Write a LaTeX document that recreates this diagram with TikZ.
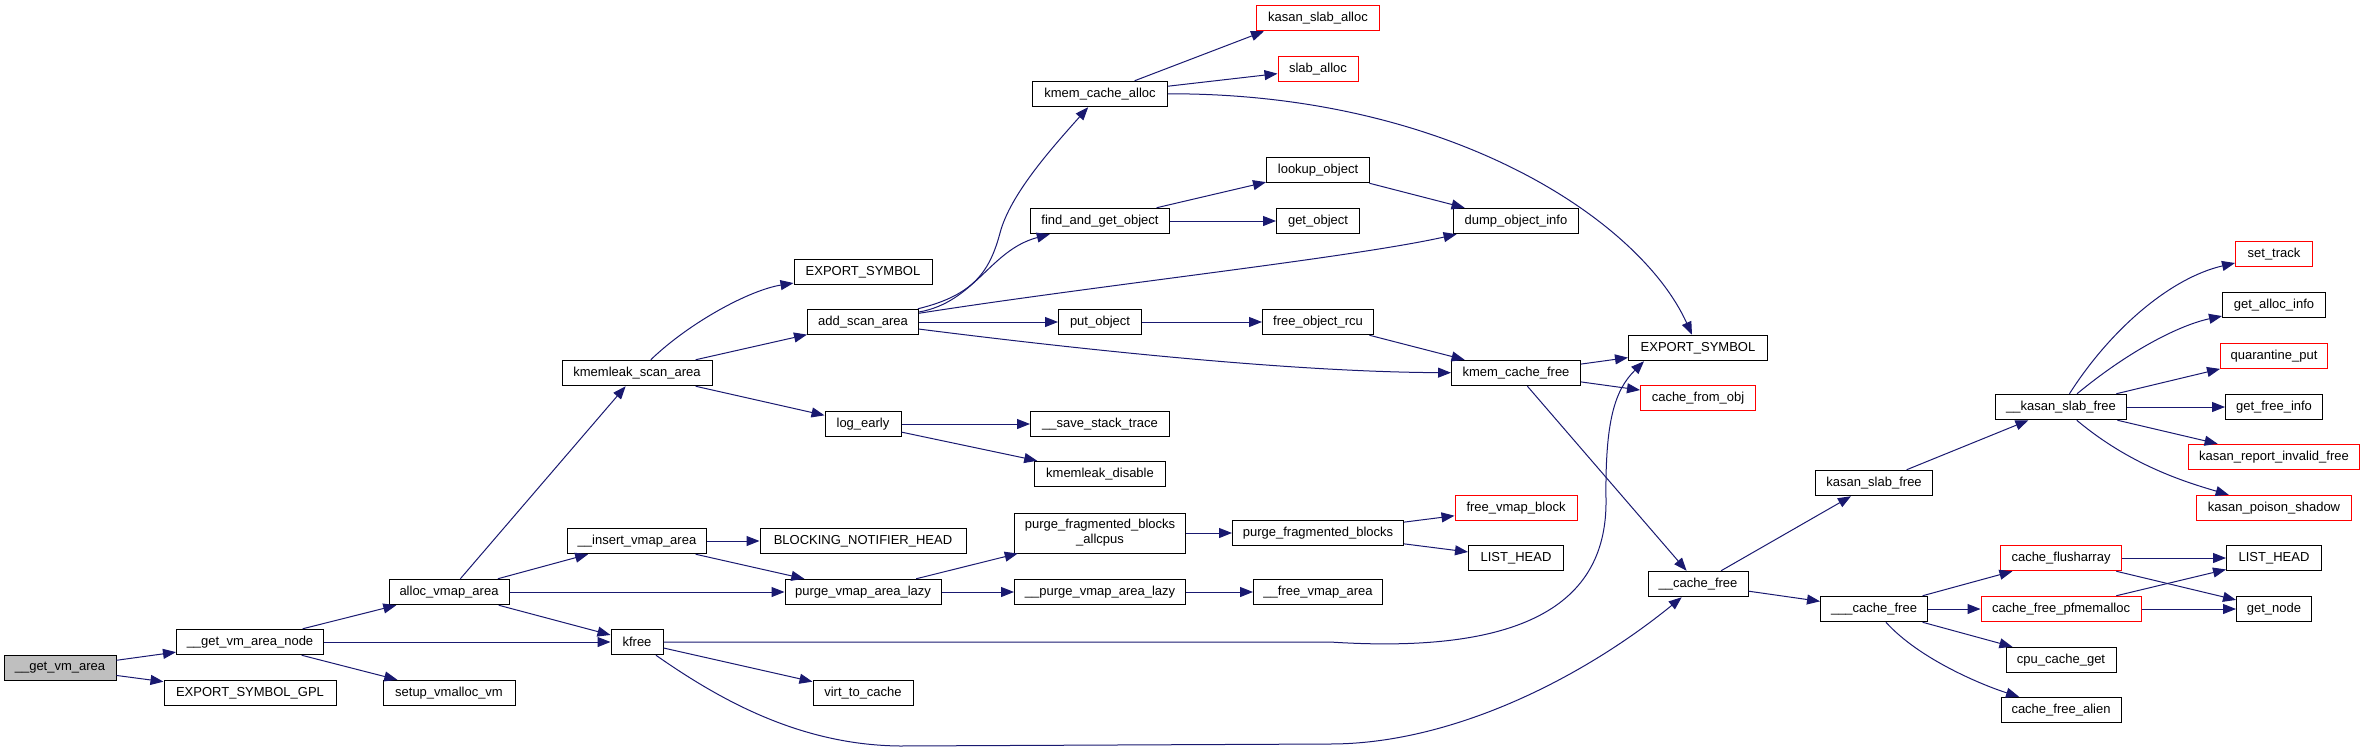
\documentclass[tikz,border=0pt]{standalone}
\usepackage{fontspec}
\setmainfont{Liberation Sans}
\usetikzlibrary{arrows.meta}
\definecolor{edgec}{HTML}{191970}
\definecolor{rootfill}{HTML}{BFBFBF}
\tikzset{
  fn/.style={draw=black, line width=1pt, minimum height=25.5pt, inner sep=0pt, font=\fontsize{13}{15}\selectfont},
  fnr/.style={fn, draw=red},
  e/.style={draw=edgec, line width=1pt, -{Triangle[length=13pt,width=10pt]}}
}
\begin{document}
\begin{tikzpicture}[x=1pt,y=-1pt]
\useasboundingbox (0,0) rectangle (2365,755);
% column 1-4
\node[fn, fill=rootfill, minimum width=112pt] (gva) at (60,668) {\_\_get\_vm\_area};
\node[fn, minimum width=147pt] (gvan) at (250,642) {\_\_get\_vm\_area\_node};
\node[fn, minimum width=172pt] (esg) at (250,693) {EXPORT\_SYMBOL\_GPL};
\node[fn, minimum width=120pt] (ava) at (449,592) {alloc\_vmap\_area};
\node[fn, minimum width=132pt] (svm) at (449,693) {setup\_vmalloc\_vm};
\node[fn, minimum width=150pt] (ksa) at (637,373) {kmemleak\_scan\_area};
\node[fn, minimum width=139pt] (iva) at (637,541) {\_\_insert\_vmap\_area};
\node[fn, minimum width=52pt] (kfree) at (637,642) {kfree};
% column 5
\node[fn, minimum width=138pt] (esa) at (863,272) {EXPORT\_SYMBOL};
\node[fn, minimum width=111pt] (asa) at (863,322) {add\_scan\_area};
\node[fn, minimum width=76pt] (le) at (863,424) {log\_early};
\node[fn, minimum width=206pt] (bnh) at (863,541) {BLOCKING\_NOTIFIER\_HEAD};
\node[fn, minimum width=156pt] (pval) at (863,592) {purge\_vmap\_area\_lazy};
\node[fn, minimum width=100pt] (vtc) at (863,693) {virt\_to\_cache};
% column 6
\node[fn, minimum width=135pt] (kca) at (1100,94) {kmem\_cache\_alloc};
\node[fn, minimum width=139pt] (fgo) at (1100,221) {find\_and\_get\_object};
\node[fn, minimum width=83pt] (po) at (1100,322) {put\_object};
\node[fn, minimum width=139pt] (sst) at (1100,424) {\_\_save\_stack\_trace};
\node[fn, minimum width=131pt] (kd) at (1100,474) {kmemleak\_disable};
\node[fn, minimum width=171pt, minimum height=40pt, align=center] (pfba) at (1100,533) {purge\_fragmented\_blocks\\\_allcpus};
\node[fn, minimum width=171pt] (upval) at (1100,592) {\_\_purge\_vmap\_area\_lazy};
% column 7
\node[fnr, minimum width=123pt] (ksal) at (1318,18) {kasan\_slab\_alloc};
\node[fnr, minimum width=80pt] (sa) at (1318,69) {slab\_alloc};
\node[fn, minimum width=103pt] (lo) at (1318,170) {lookup\_object};
\node[fn, minimum width=83pt] (go) at (1318,221) {get\_object};
\node[fn, minimum width=111pt] (for) at (1318,322) {free\_object\_rcu};
\node[fn, minimum width=171pt] (pfb) at (1318,533) {purge\_fragmented\_blocks};
\node[fn, minimum width=129pt] (fva) at (1318,592) {\_\_free\_vmap\_area};
% column 8
\node[fn, minimum width=125pt] (doi) at (1516,221) {dump\_object\_info};
\node[fn, minimum width=129pt] (kcf) at (1516,373) {kmem\_cache\_free};
\node[fnr, minimum width=122pt] (fvb) at (1516,508) {free\_vmap\_block};
\node[fn, minimum width=95pt] (lha) at (1516,558) {LIST\_HEAD};
% column 9
\node[fn, minimum width=139pt] (esb) at (1698,348) {EXPORT\_SYMBOL};
\node[fnr, minimum width=115pt] (cfo) at (1698,398) {cache\_from\_obj};
\node[fn, minimum width=100pt] (cf) at (1698,584) {\_\_cache\_free};
% column 10
\node[fn, minimum width=117pt] (ksf) at (1874,483) {kasan\_slab\_free};
\node[fn, minimum width=107pt] (ucf) at (1874,609) {\_\_\_cache\_free};
% column 11
\node[fn, minimum width=131pt] (uksf) at (2061,407) {\_\_kasan\_slab\_free};
\node[fnr, minimum width=121pt] (cfa) at (2061,558) {cache\_flusharray};
\node[fnr, minimum width=160pt] (cfp) at (2061,609) {cache\_free\_pfmemalloc};
\node[fn, minimum width=110pt] (ccg) at (2061,660) {cpu\_cache\_get};
\node[fn, minimum width=120pt] (cfal) at (2061,710) {cache\_free\_alien};
% column 12
\node[fnr, minimum width=77pt] (st) at (2274,254) {set\_track};
\node[fn, minimum width=103pt] (gai) at (2274,305) {get\_alloc\_info};
\node[fnr, minimum width=107pt] (qp) at (2274,356) {quarantine\_put};
\node[fn, minimum width=97pt] (gfi) at (2274,407) {get\_free\_info};
\node[fnr, minimum width=171pt] (krif) at (2274,457) {kasan\_report\_invalid\_free};
\node[fnr, minimum width=155pt] (kps) at (2274,508) {kasan\_poison\_shadow};
\node[fn, minimum width=95pt] (lhb) at (2274,558) {LIST\_HEAD};
\node[fn, minimum width=75pt] (gn) at (2274,609) {get\_node};

% edges
\draw[e] (gva) -- (gvan);
\draw[e] (gva) -- (esg);
\draw[e] (gvan) -- (ava);
\draw[e] (gvan) -- (kfree);
\draw[e] (gvan) -- (svm);
\draw[e] (ava) -- (ksa);
\draw[e] (ava) -- (iva);
\draw[e] (ava) -- (pval);
\draw[e] (ava) -- (kfree);
\draw[e] (ksa) .. controls (690,322) and (750,290) .. (esa);
\draw[e] (ksa) -- (asa);
\draw[e] (ksa) -- (le);
\draw[e] (asa) .. controls (975,295) and (990,270) .. (1000,233) .. controls (1010,195) and (1050,150) .. (kca);
\draw[e] (asa) .. controls (975,302) and (990,250) .. (fgo);
\draw[e] (asa) .. controls (1100,285) and (1350,258) .. (doi);
\draw[e] (asa) -- (po);
\draw[e] (asa) .. controls (1100,352) and (1300,372) .. (kcf);
\draw[e] (kca) -- ([xshift=8pt]ksal.south west);
\draw[e] (kca) -- (sa);
\draw[e] (kca) .. controls (1450,93) and (1640,220) .. (esb);
\draw[e] (fgo) -- (lo);
\draw[e] (fgo) -- (go);
\draw[e] (lo) -- (doi);
\draw[e] (po) -- (for);
\draw[e] (for) -- (kcf);
\draw[e] (kcf) -- (esb);
\draw[e] (kcf) -- (cfo);
\draw[e] (kcf) -- (cf);
\draw[e] (le) -- (sst);
\draw[e] (le) -- (kd);
\draw[e] (iva) -- (bnh);
\draw[e] (iva) -- (pval);
\draw[e] (pval) -- (pfba);
\draw[e] (pval) -- (upval);
\draw[e] (pfba) -- (pfb);
\draw[e] (pfb) -- (fvb);
\draw[e] (pfb) -- (lha);
\draw[e] (upval) -- (fva);
\draw[e] (kfree) -- (1330,642) .. controls (1530,655) and (1607,600) .. (1606,500) .. controls (1605,420) and (1615,390) .. ([xshift=16pt]esb.south west);
\draw[e] (kfree) -- (vtc);
\draw[e] (kfree) .. controls (720,700) and (800,745) .. (900,746) -- (1330,744) .. controls (1450,744) and (1580,680) .. (cf);
\draw[e] (cf) -- (ksf);
\draw[e] (cf) -- (ucf);
\draw[e] (ksf) -- (uksf);
\draw[e] (uksf) .. controls (2110,330) and (2170,278) .. (st);
\draw[e] (uksf) .. controls (2130,350) and (2180,325) .. (gai);
\draw[e] (uksf) -- (qp);
\draw[e] (uksf) -- (gfi);
\draw[e] (uksf) -- (krif);
\draw[e] (uksf) .. controls (2130,465) and (2185,482) .. (kps);
\draw[e] (ucf) -- (cfa);
\draw[e] (ucf) -- (cfp);
\draw[e] (ucf) -- (ccg);
\draw[e] (ucf) .. controls (1920,660) and (1985,686) .. (cfal);
\draw[e] (cfa) -- (lhb);
\draw[e] (cfa) -- (gn);
\draw[e] (cfp) -- (lhb);
\draw[e] (cfp) -- (gn);
\end{tikzpicture}
\end{document}
